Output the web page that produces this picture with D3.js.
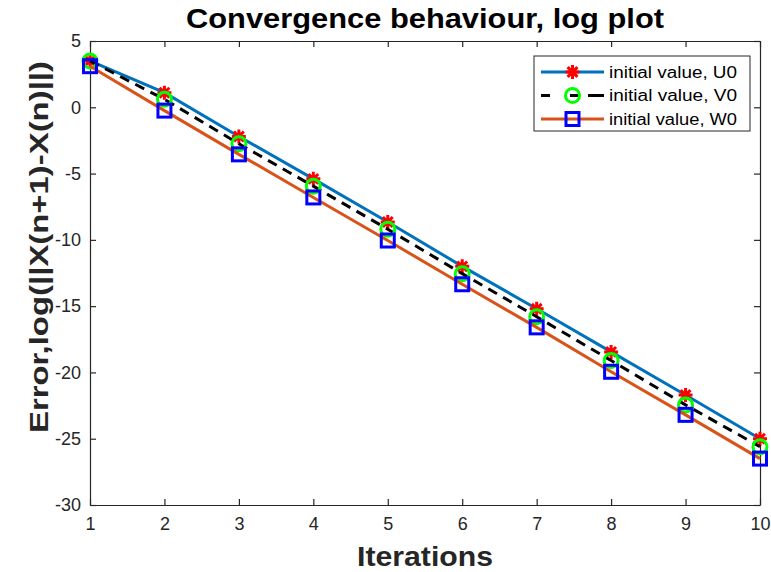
<!DOCTYPE html>
<html>
<head>
<meta charset="utf-8">
<script src="https://cdn.jsdelivr.net/npm/d3@7"></script>
<style>
  body { margin: 0; background: #fff; }
  text { font-family: "Liberation Sans", Arial, Helvetica, sans-serif; }
</style>
</head>
<body>
<div id="chart"></div>
<script>
// Data
var iterations = [1, 2, 3, 4, 5, 6, 7, 8, 9, 10];
var errU0 = [3.5, 1.1, -2.2, -5.4, -8.65, -12.0, -15.2, -18.45, -21.7, -25.0];
var errV0 = [3.5, 0.6, -2.75, -5.95, -9.2, -12.55, -15.8, -19.1, -22.45, -25.6];
var errW0 = [3.1, -0.25, -3.55, -6.8, -10.05, -13.35, -16.6, -19.95, -23.2, -26.5];
var xTicks = [1, 2, 3, 4, 5, 6, 7, 8, 9, 10];
var yTicks = [5, 0, -5, -10, -15, -20, -25, -30];
var seriesNames = ["initial value, U0", "initial value, V0", "initial value, W0"];

var W = 771, H = 572;
var margin = {top: 41, right: 11, bottom: 67, left: 90},
    width = W - margin.left - margin.right,
    height = H - margin.top - margin.bottom;

var x = d3.scaleLinear().domain([1, 10]).range([0, width]);
var y = d3.scaleLinear().domain([-30, 5]).range([height, 0]);

var svg = d3.select("#chart").append("svg")
    .attr("width", W)
    .attr("height", H);

var g = svg.append("g")
    .attr("transform", "translate(" + margin.left + "," + margin.top + ")");

var axisColor = "#262626";
var fmt = function(d) { return String(d); };  // plain hyphen minus like MATLAB

// axes, ticks pointing inward (MATLAB style) with box on
var xAxis = d3.axisBottom(x).tickValues(xTicks).tickFormat(fmt).tickSizeInner(-6).tickSizeOuter(0).tickPadding(12);
var yAxis = d3.axisLeft(y).tickValues(yTicks).tickFormat(fmt).tickSizeInner(-6).tickSizeOuter(0).tickPadding(9);

function styleAxis(sel) {
  sel.select(".domain").attr("stroke", axisColor).attr("stroke-width", 1.2);
  sel.selectAll(".tick line").attr("stroke", axisColor).attr("stroke-width", 1.2);
  sel.selectAll(".tick text").attr("fill", axisColor).style("font-size", "18px");
}

g.append("g").attr("transform", "translate(0," + height + ")").call(xAxis).call(styleAxis);
g.append("g").call(yAxis).call(styleAxis);
g.append("g").call(d3.axisTop(x).tickValues(xTicks).tickSizeInner(-6).tickSizeOuter(0).tickFormat(""))
  .call(styleAxis);
g.append("g").attr("transform", "translate(" + width + ",0)")
  .call(d3.axisRight(y).tickValues(yTicks).tickSizeInner(-6).tickSizeOuter(0).tickFormat(""))
  .call(styleAxis);

// series
var series = [
  {name: seriesNames[0], values: errU0, color: "#0072BD", dash: null, marker: "star", mcolor: "#FF0000"},
  {name: seriesNames[1], values: errV0, color: "#000000", dash: "10,7", marker: "circle", mcolor: "#00FF00"},
  {name: seriesNames[2], values: errW0, color: "#D95319", dash: null, marker: "square", mcolor: "#0000FF"}
];

var line = d3.line()
  .x(function(d, i) { return x(iterations[i]); })
  .y(function(d) { return y(d); });

function drawMarker(sel, type, color, cx, cy) {
  if (type === "star") {
    var r = 7;
    var p = "M" + (cx - r) + "," + cy + "L" + (cx + r) + "," + cy +
            "M" + cx + "," + (cy - r) + "L" + cx + "," + (cy + r) +
            "M" + (cx - r * 0.7) + "," + (cy - r * 0.7) + "L" + (cx + r * 0.7) + "," + (cy + r * 0.7) +
            "M" + (cx - r * 0.7) + "," + (cy + r * 0.7) + "L" + (cx + r * 0.7) + "," + (cy - r * 0.7);
    sel.append("path").attr("d", p).attr("stroke", color).attr("stroke-width", 3).attr("fill", "none");
  } else if (type === "circle") {
    sel.append("circle").attr("cx", cx).attr("cy", cy).attr("r", 7)
      .attr("fill", "none").attr("stroke", color).attr("stroke-width", 3);
  } else {
    sel.append("rect").attr("x", cx - 6.5).attr("y", cy - 6.5).attr("width", 13).attr("height", 13)
      .attr("fill", "none").attr("stroke", color).attr("stroke-width", 3);
  }
}

series.forEach(function(s) {
  var sg = g.append("g");
  sg.append("path")
    .datum(s.values)
    .attr("d", line)
    .attr("fill", "none")
    .attr("stroke", s.color)
    .attr("stroke-width", 3)
    .attr("stroke-dasharray", s.dash);
  s.values.forEach(function(v, i) {
    drawMarker(sg, s.marker, s.mcolor, x(iterations[i]), y(v));
  });
});

// legend
var lg = svg.append("g").attr("transform", "translate(534,56)");
lg.append("rect").attr("width", 216).attr("height", 75)
  .attr("fill", "#fff").attr("stroke", axisColor).attr("stroke-width", 1);
series.forEach(function(s, i) {
  var yy = 16 + i * 23.5;
  lg.append("line").attr("x1", 7).attr("x2", 70).attr("y1", yy).attr("y2", yy)
    .attr("stroke", s.color).attr("stroke-width", 3).attr("stroke-dasharray", s.dash ? "9,20,9" : null);
  drawMarker(lg, s.marker, s.mcolor, 38.5, yy);
  lg.append("text").attr("x", 75).attr("y", yy + 5.5)
    .style("font-size", "16px").attr("fill", "#000")
    .attr("textLength", 128).attr("lengthAdjust", "spacingAndGlyphs")
    .text(s.name);
});

// title and axis labels
svg.append("text")
  .attr("x", margin.left + width / 2).attr("y", 28)
  .attr("text-anchor", "middle")
  .style("font-size", "27px").style("font-weight", "bold")
  .attr("textLength", 478).attr("lengthAdjust", "spacingAndGlyphs")
  .text("Convergence behaviour, log plot");

svg.append("text")
  .attr("x", margin.left + width / 2).attr("y", 566)
  .attr("text-anchor", "middle")
  .style("font-size", "28px").style("font-weight", "bold").attr("fill", axisColor)
  .attr("textLength", 136).attr("lengthAdjust", "spacingAndGlyphs")
  .text("Iterations");

svg.append("text")
  .attr("transform", "translate(48,247) rotate(-90)")
  .attr("text-anchor", "middle")
  .style("font-size", "26px").style("font-weight", "bold").attr("fill", axisColor)
  .attr("textLength", 372).attr("lengthAdjust", "spacingAndGlyphs")
  .text("Error,log(||X(n+1)-X(n)||)");
</script>
</body>
</html>
